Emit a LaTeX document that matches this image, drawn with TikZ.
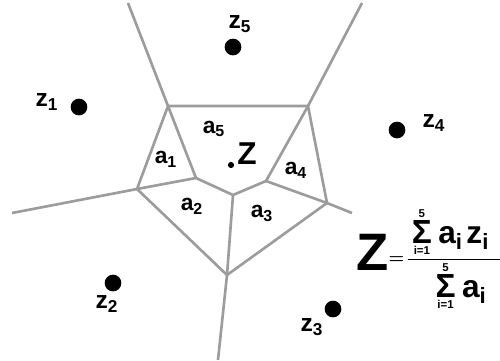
\documentclass[tikz,border=0pt]{standalone}
\usepackage{fontspec}
\usepackage{amsmath}
\setmainfont{Liberation Sans}
\usetikzlibrary{positioning}
\definecolor{edgegray}{HTML}{9C9C9C}
\newcommand{\sumfive}{\mathop{\text{\bfseries\fontsize{19}{19}\selectfont Σ}}\limits_{\text{\bfseries\fontsize{6.5}{6.5}\selectfont i=1}}^{\text{\bfseries\fontsize{6.5}{6.5}\selectfont 5}}}
\newcommand{\fterm}[1]{\text{\bfseries\fontsize{18}{18}\selectfont #1}}

\begin{document}
\begin{tikzpicture}[
    x=0.02cm, y=-0.02cm,
    edge/.style={draw=edgegray, line width=1.5pt, line join=round},
    site/.style={circle, fill=black, inner sep=0pt, minimum size=9.5pt},
    newsite/.style={circle, fill=black, inner sep=0pt, minimum size=3.5pt},
    lbl/.style={font=\bfseries\fontsize{14}{14}\selectfont, inner sep=0pt},
    arealbl/.style={font=\bfseries\fontsize{13}{13}\selectfont, inner sep=0pt}
]
\useasboundingbox (0,0) rectangle (500,360);

% cell vertices
\coordinate (A) at (168,106);
\coordinate (B) at (308,106);
\coordinate (C) at (327,203);
\coordinate (D) at (227,275);
\coordinate (E) at (137,189);
\coordinate (P1) at (196,178);
\coordinate (P2) at (233,195);
\coordinate (P3) at (266,181);
% ray ends
\coordinate (rA) at (128,3);
\coordinate (rB) at (362,3);
\coordinate (rC) at (352,213);
\coordinate (rD) at (218,360);
\coordinate (rE) at (12,213);

% old cell and rays
\draw[edge] (A) -- (B) -- (C) -- (D) -- (E) -- cycle;
\draw[edge] (A) -- (rA);
\draw[edge] (B) -- (rB);
\draw[edge] (C) -- (rC);
\draw[edge] (D) -- (rD);
\draw[edge] (E) -- (rE);
% new cell
\draw[edge] (A) -- (P1) -- (P2) -- (P3) -- (B);
\draw[edge] (P1) -- (E);
\draw[edge] (P2) -- (D);
\draw[edge] (P3) -- (C);

% sites
\node[site] (z1) at (79,107) {};
\node[site] (z2) at (113,283) {};
\node[site] (z3) at (333,309) {};
\node[site] (z4) at (397,130) {};
\node[site] (z5) at (233,47) {};
\node[newsite] (z) at (231,165) {};

\node[lbl] (lz1) at (47,102) {z\textsubscript{1}};
\node[lbl] (lz2) at (107,304) {z\textsubscript{2}};
\node[lbl] (lz3) at (312,327) {z\textsubscript{3}};
\node[lbl] (lz4) at (434,123) {z\textsubscript{4}};
\node[lbl] (lz5) at (240,24) {z\textsubscript{5}};
\node[font=\bfseries\fontsize{18}{18}\selectfont, inner sep=0pt] (lz) at (247,154) {Z};

\node[arealbl] (a1) at (166,159) {a\textsubscript{1}};
\node[arealbl] (a2) at (192,206) {a\textsubscript{2}};
\node[arealbl] (a3) at (262,213) {a\textsubscript{3}};
\node[arealbl] (a4) at (296,170) {a\textsubscript{4}};
\node[arealbl] (a5) at (214,129) {a\textsubscript{5}};

% interpolation formula
\node[anchor=west, inner sep=0pt] (formula) at (356,259)
  {\raisebox{-0.42em}{\fontsize{30}{30}\selectfont\bfseries Z}$\boldsymbol{=}\!\dfrac{\hspace{2pt}\sumfive\hspace{2pt}\fterm{a\textsubscript{i}\hspace{2pt}z\textsubscript{i}}\hspace{6pt}}{\hspace{8pt}\sumfive\hspace{2pt}\fterm{a\textsubscript{i}}}$};

\end{tikzpicture}
\end{document}
